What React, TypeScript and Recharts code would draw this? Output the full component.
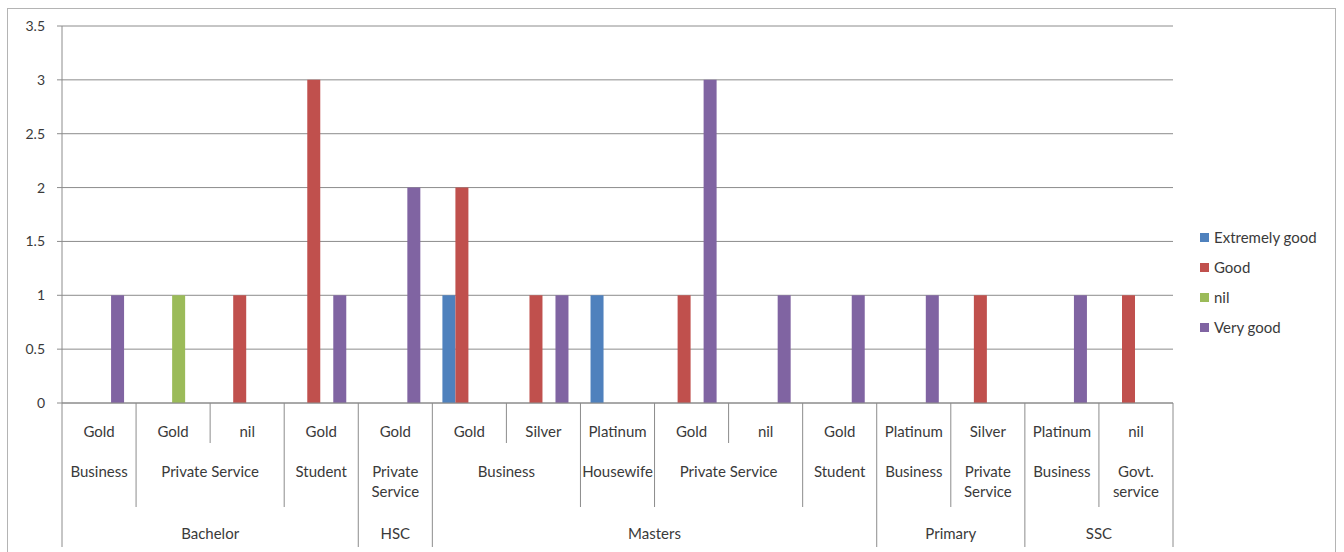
import React from 'react';
import { BarChart, Bar, XAxis, YAxis, CartesianGrid } from 'recharts';

const tiers = ['Gold', 'Gold', 'nil', 'Gold', 'Gold', 'Gold', 'Silver', 'Platinum', 'Gold', 'nil', 'Gold', 'Platinum', 'Silver', 'Platinum', 'nil'];
const occupations = ['Business', 'Private Service', 'Private Service', 'Student', 'Private Service', 'Business', 'Business', 'Housewife', 'Private Service', 'Private Service', 'Student', 'Business', 'Private Service', 'Business', 'Govt. service'];
const education = ['Bachelor', 'Bachelor', 'Bachelor', 'Bachelor', 'HSC', 'Masters', 'Masters', 'Masters', 'Masters', 'Masters', 'Masters', 'Primary', 'Primary', 'SSC', 'SSC'];

const extremelyGood = [null, null, null, null, null, 1, null, 1, null, null, null, null, null, null, null];
const good = [null, null, 1, 3, null, 2, 1, null, 1, null, null, null, 1, null, 1];
const nilSeries = [null, 1, null, null, null, null, null, null, null, null, null, null, null, null, null];
const veryGood = [1, null, null, 1, 2, null, 1, null, 3, 1, 1, 1, null, 1, null];

const yTicks = [0, 0.5, 1, 1.5, 2, 2.5, 3, 3.5];

const series = [
  { key: 'extremelyGood', name: 'Extremely good', color: '#4F81BD', values: extremelyGood },
  { key: 'good', name: 'Good', color: '#C0504D', values: good },
  { key: 'nil', name: 'nil', color: '#9BBB59', values: nilSeries },
  { key: 'veryGood', name: 'Very good', color: '#8064A2', values: veryGood },
];

const data = tiers.map((t, i) => {
  const row: any = { idx: i, tier: t };
  series.forEach((s) => {
    row[s.key] = s.values[i];
  });
  return row;
});

const FONT = 'Lato, "Open Sans", sans-serif';
const TEXT = '#3a3a3a';
const LINE = '#8c8c8c';
const FS = 15;

const W = 1344;
const H = 552;
const M_LEFT = 0;
const Y_W = 62;
const M_RIGHT = 171;
const PLOT_W = W - M_LEFT - Y_W - M_RIGHT;

function spanLen(arr: string[], keyFn: (j: number) => string, i: number) {
  let n = 1;
  while (i + n < arr.length && keyFn(i + n) === keyFn(i)) n++;
  return n;
}

const MultiTick = (props: any) => {
  const { x, y, payload } = props;
  const i: number = payload?.index ?? props.index ?? 0;
  const band = payload && typeof payload.offset === 'number' && payload.offset > 0 ? payload.offset * 2 : PLOT_W / tiers.length;
  const left = x - band / 2;
  const occKey = (j: number) => education[j] + '|' + occupations[j];
  const eduKey = (j: number) => education[j];

  let sepLen = 40;
  if (i === 0 || education[i] !== education[i - 1]) sepLen = 144;
  else if (occupations[i] !== occupations[i - 1]) sepLen = 104;

  const parts: React.ReactNode[] = [];
  parts.push(<line key="sep" x1={left} x2={left} y1={y} y2={y + sepLen} stroke={LINE} strokeWidth={1} />);
  if (i === tiers.length - 1) {
    parts.push(<line key="sepR" x1={left + band} x2={left + band} y1={y} y2={y + 144} stroke={LINE} strokeWidth={1} />);
  }
  parts.push(
    <text key="l1" x={x} y={y + 28} textAnchor="middle" dominantBaseline="central" fill={TEXT} fontSize={FS} fontFamily={FONT}>
      {tiers[i]}
    </text>
  );

  const firstOcc = i === 0 || occKey(i) !== occKey(i - 1);
  if (firstOcc) {
    const n = spanLen(tiers, occKey, i);
    const cx = left + (n * band) / 2;
    const label = occupations[i];
    const lines = n === 1 && label.includes(' ') ? label.split(' ') : [label];
    lines.forEach((ln, k) => {
      parts.push(
        <text key={'l2-' + k} x={cx} y={y + 68 + k * 20} textAnchor="middle" dominantBaseline="central" fill={TEXT} fontSize={FS} fontFamily={FONT}>
          {ln}
        </text>
      );
    });
  }

  const firstEdu = i === 0 || eduKey(i) !== eduKey(i - 1);
  if (firstEdu) {
    const n = spanLen(tiers, eduKey, i);
    const cx = left + (n * band) / 2;
    parts.push(
      <text key="l3" x={cx} y={y + 130} textAnchor="middle" dominantBaseline="central" fill={TEXT} fontSize={FS} fontFamily={FONT}>
        {education[i]}
      </text>
    );
  }
  return <g>{parts}</g>;
};

export default function App() {
  return (
    <div style={{ position: 'absolute', left: 0, top: 0, width: W, height: H, overflow: 'hidden', background: '#fff' }}>
      <div style={{ position: 'absolute', left: 7, top: 8, width: 1329, height: 600, border: '1px solid #b4b4b4', boxSizing: 'border-box' }} />
      <div style={{ position: 'absolute', left: 0, top: 0 }}>
        <BarChart
          width={W}
          height={H}
          data={data}
          margin={{ top: 26, right: M_RIGHT, bottom: 0, left: M_LEFT }}
          barGap={0}
          barCategoryGap="13.6%"
        >
          <CartesianGrid vertical={false} stroke={LINE} strokeWidth={1} />
          <XAxis
            dataKey="idx"
            type="category"
            height={149}
            interval={0}
            tickLine={false}
            tickSize={0}
            tickMargin={0}
            axisLine={{ stroke: LINE }}
            tick={<MultiTick />}
          />
          <YAxis
            width={Y_W}
            domain={[0, 3.5]}
            ticks={yTicks}
            interval={0}
            axisLine={{ stroke: LINE }}
            tickLine={{ stroke: LINE }}
            tickSize={5}
            tickMargin={12}
            tick={{ fill: TEXT, fontSize: 14, fontFamily: FONT }}
          />
          {series.map((s) => (
            <Bar key={s.key} dataKey={s.key} name={s.name} fill={s.color} isAnimationActive={false} />
          ))}
        </BarChart>
      </div>
      <div style={{ position: 'absolute', left: 1200, top: 222, fontFamily: FONT, fontSize: FS, color: TEXT }}>
        {series.map((s) => (
          <div key={s.key} style={{ height: 30, display: 'flex', alignItems: 'center', whiteSpace: 'nowrap' }}>
            <span style={{ display: 'inline-block', width: 9, height: 9, background: s.color, marginRight: 5 }} />
            <span style={{ lineHeight: '20px' }}>{s.name}</span>
          </div>
        ))}
      </div>
    </div>
  );
}
